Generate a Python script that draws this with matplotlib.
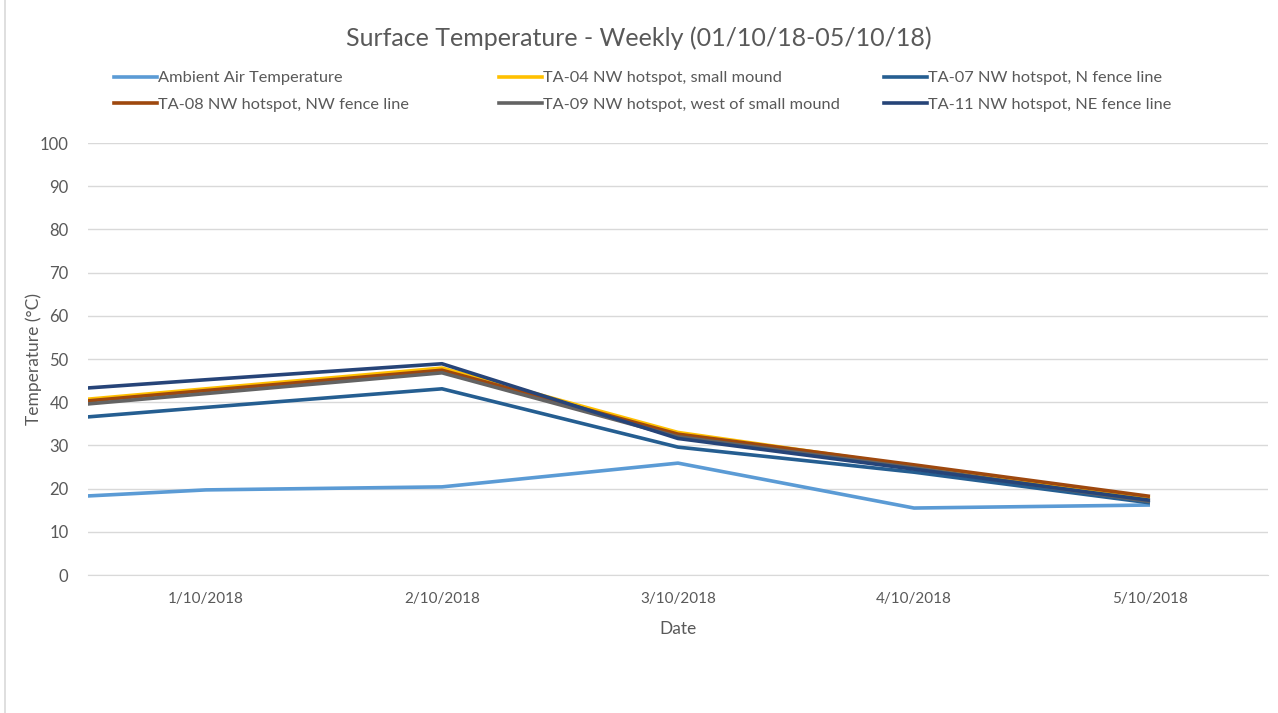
import matplotlib.pyplot as plt
from matplotlib.lines import Line2D
import numpy as np

plt.rcParams['font.family'] = ['Lato', 'DejaVu Sans']

# dates on the category axis (30/09 is only there so the lines run in from the left edge)
dates = ['30/09/2018', '1/10/2018', '2/10/2018', '3/10/2018', '4/10/2018', '5/10/2018']
shown_dates = dates[1:]

ambient = [16.9, 19.7, 20.4, 25.9, 15.5, 16.2]
ta04 = [38.3, 43.1, 47.9, 33.0, 25.2, 17.8]
ta07 = [34.4, 38.8, 43.1, 29.6, 23.8, 16.7]
ta08 = [37.9, 42.7, 47.4, 32.6, 25.5, 18.2]
ta09 = [37.2, 42.0, 46.8, 32.0, 24.8, 17.0]
ta11 = [41.4, 45.2, 48.9, 31.6, 24.5, 17.3]

names = ['Ambient Air Temperature', 'TA-04 NW hotspot, small mound', 'TA-07 NW hotspot, N fence line',
         'TA-08 NW hotspot, NW fence line', 'TA-09 NW hotspot, west of small mound',
         'TA-11 NW hotspot, NE fence line']
series = [ambient, ta04, ta07, ta08, ta09, ta11]
colors = ['#5B9BD5', '#FFC000', '#255E91', '#9E480E', '#636363', '#264478']

grey = '#595959'
fig = plt.figure(figsize=(12.78, 7.13), dpi=100)
ax = fig.add_axes([88 / 1278, 1 - 575 / 713, (1268 - 88) / 1278, (575 - 143) / 713])

x = np.arange(len(dates)) - 1
for vals, c, n in zip(series, colors, names):
    ax.plot(x, vals, color=c, lw=2.6, label=n, solid_capstyle='butt')

ax.set_xlim(-0.5, 4.5)
ax.set_ylim(0, 100)
ax.set_yticks(np.arange(0, 101, 10))
ax.set_xticks(np.arange(len(shown_dates)))
ax.set_xticklabels(shown_dates)
ax.grid(axis='y', color='#D9D9D9', lw=1)
ax.set_axisbelow(True)
for s in ['left', 'right', 'top']:
    ax.spines[s].set_visible(False)
ax.spines['bottom'].set_color('#D9D9D9')
ax.tick_params(axis='both', length=0, colors=grey)
ax.tick_params(axis='y', pad=14, labelsize=12)
ax.tick_params(axis='x', pad=12, labelsize=11)
ax.set_xlabel('Date', color=grey, fontsize=12.5, labelpad=11)
ax.set_ylabel('Temperature (°C)', color=grey, fontsize=12.5, labelpad=-2)

fig.text(0.5, 1 - 38 / 713, 'Surface Temperature - Weekly (01/10/18-05/10/18)',
         ha='center', va='center', fontsize=18, color=grey)

# legend, one little legend per column so the columns sit where the original has them
col_x = [114 / 1278, 499 / 1278, 884 / 1278]
for k in range(3):
    idx = [k, k + 3]
    handles = [Line2D([], [], color=colors[i], lw=2.6) for i in idx]
    fig.legend(handles, [names[i] for i in idx], loc='upper left',
               bbox_to_anchor=(col_x[k], 1 - 71 / 713), frameon=False, fontsize=11.8,
               handlelength=2.6, handletextpad=0.1, labelspacing=0.75, borderaxespad=0,
               borderpad=0, labelcolor=grey)

fig.add_artist(Line2D([5 / 1278, 5 / 1278], [0, 1], color='#D9D9D9', lw=1.2))

fig.savefig('out.png', dpi=100)
